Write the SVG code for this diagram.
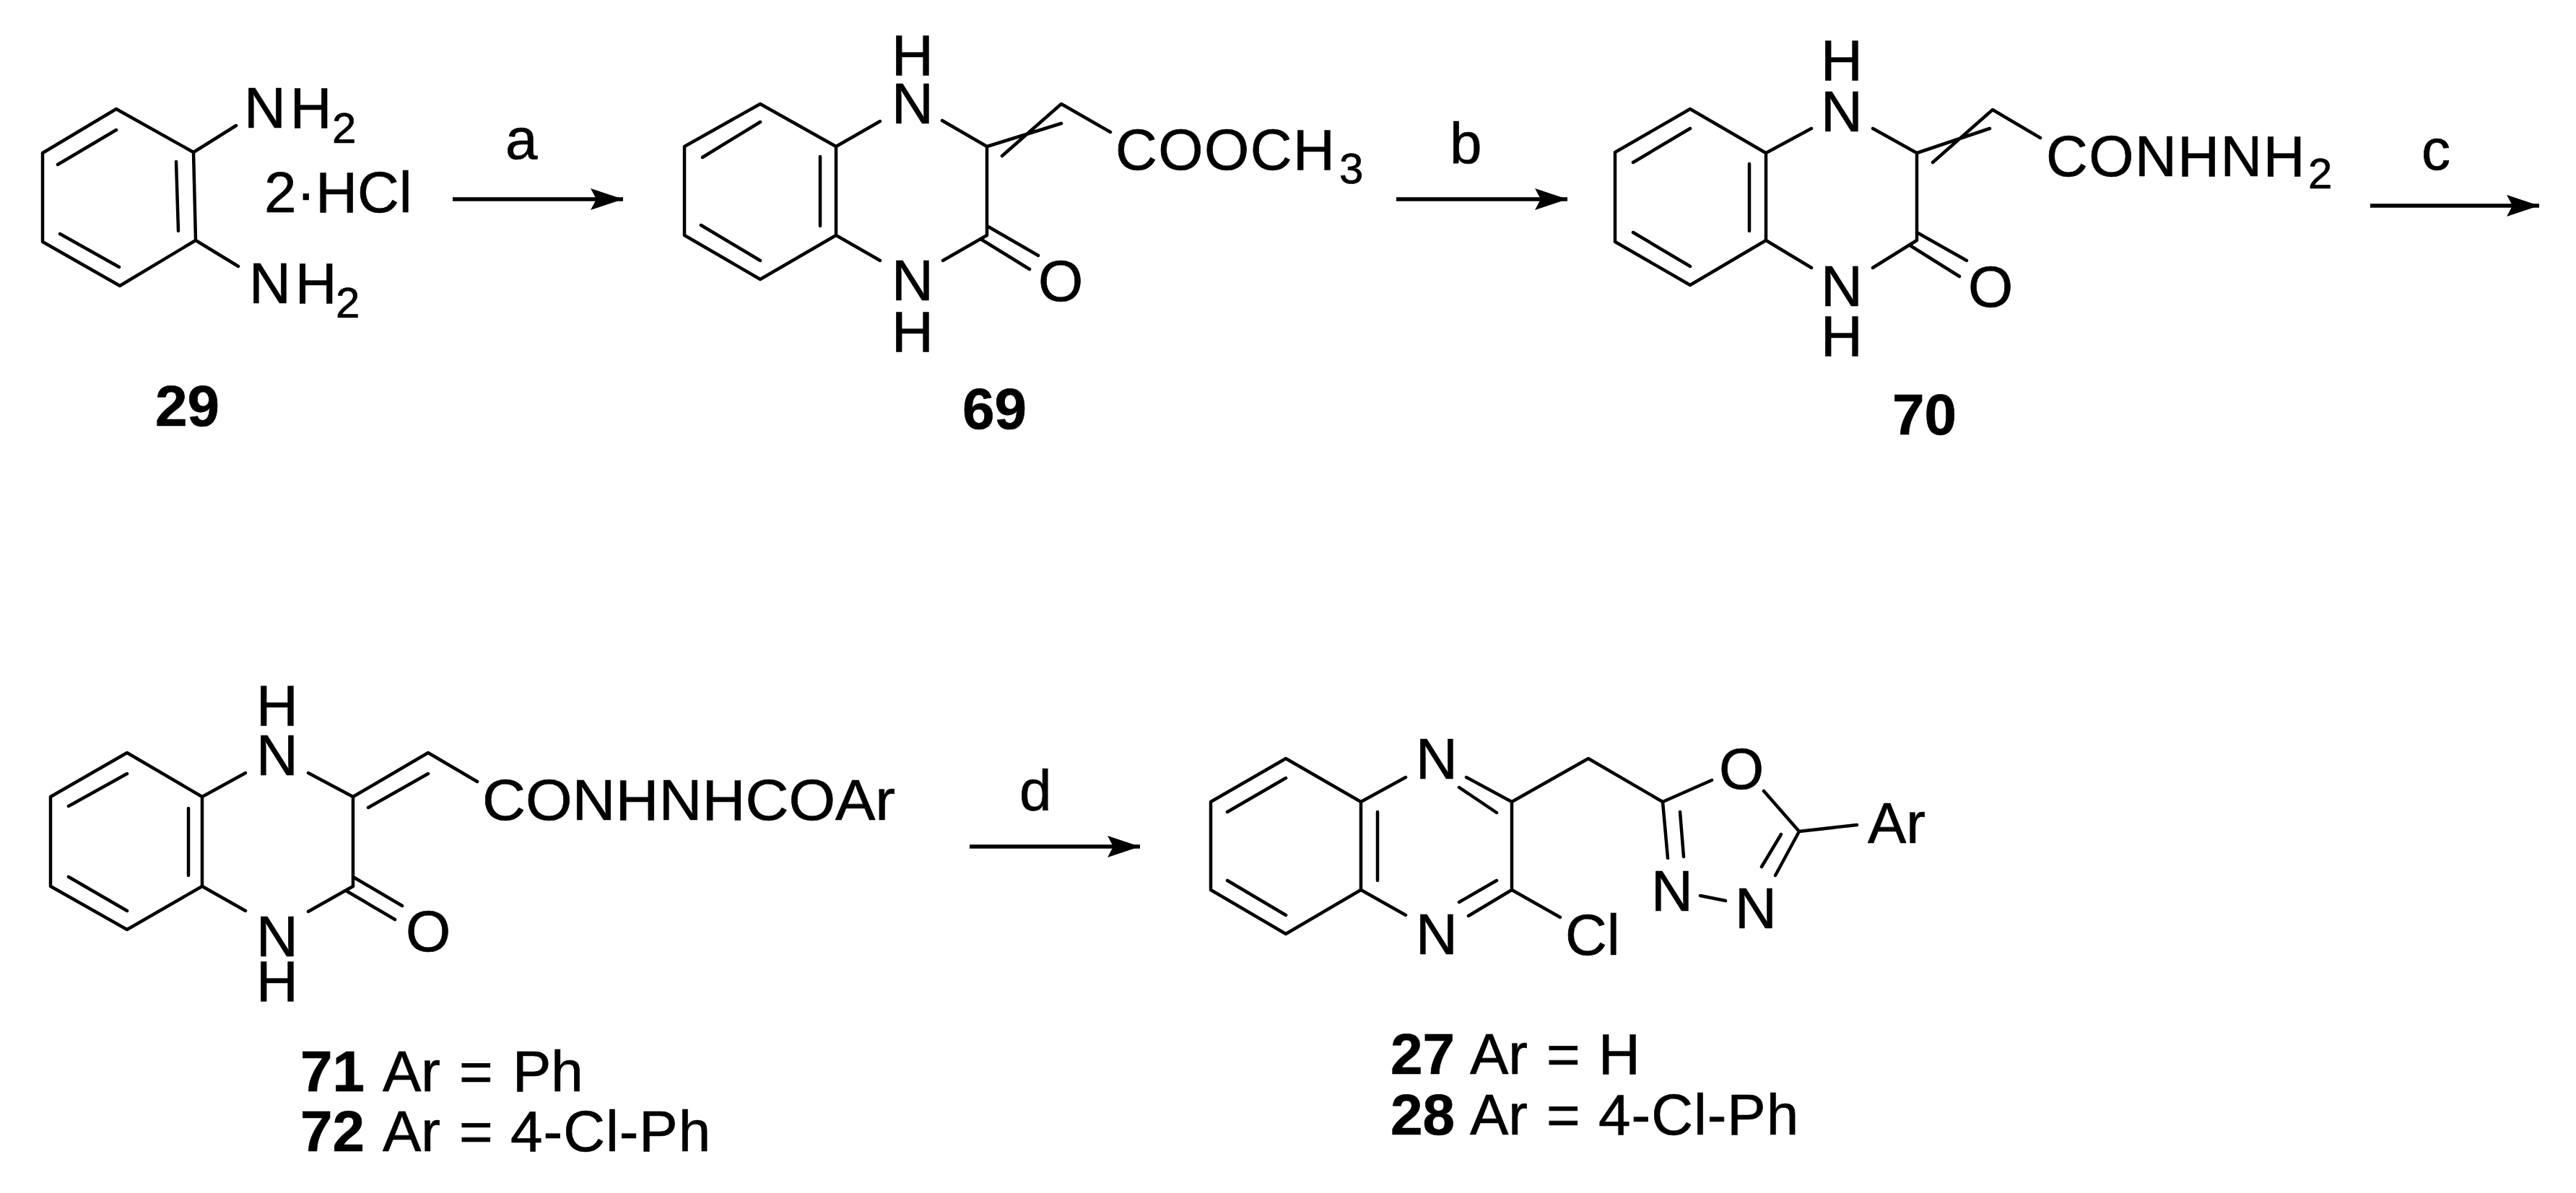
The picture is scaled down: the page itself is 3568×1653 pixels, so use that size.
<svg xmlns="http://www.w3.org/2000/svg" width="3568" height="1653" viewBox="0 0 3568 1653">
<style>
text{font-family:"Liberation Sans",Arial,sans-serif;font-size:80px;fill:#000;stroke:#000;stroke-width:.7px}
.b{font-weight:bold}
.s{font-size:60px}
.nh{letter-spacing:6px}
.ls{letter-spacing:1.5px}
.bond{fill:none;stroke:#000;stroke-width:4.5;stroke-linecap:round;stroke-linejoin:round}
.arrow{fill:none;stroke:#000;stroke-width:5.5}
</style>
<defs>
<marker id="head" markerUnits="userSpaceOnUse" markerWidth="48" markerHeight="34" refX="45" refY="15" orient="auto" viewBox="0 0 48 34">
<path d="M0 0L45 15L0 30L8 15Z" fill="#000"/>
</marker>
</defs>
<rect width="3568" height="1653" fill="#fff"/>

<g id="connectors">
<line class="arrow" x1="627" y1="276" x2="863" y2="276" marker-end="url(#head)"/>
<line class="arrow" x1="1934" y1="276" x2="2171" y2="276" marker-end="url(#head)"/>
<line class="arrow" x1="3283" y1="285" x2="3517" y2="285" marker-end="url(#head)"/>
<line class="arrow" x1="1343" y1="1173" x2="1579" y2="1173" marker-end="url(#head)"/>
<text x="700" y="220">a</text>
<text x="2008" y="226">b</text>
<text x="3354" y="235">c</text>
<text x="1412" y="1123">d</text>
</g>

<g id="mol-29">
<path class="bond" d="M161 151L59 212V335L166 396L271 333L268 211ZM80 228L161 180M244 224L247 320M83 324L165 370M268 211L327 174M271 333L330 369"/>
<text class="nh" x="338" y="177">NH</text><text class="s" x="460" y="198">2</text>
<text class="nh" x="345" y="420">NH</text><text class="s" x="465" y="440">2</text>
<text x="366" y="294">2·HCl</text>
<text class="b" x="215" y="590">29</text>
</g>

<g id="mol-69">
<path class="bond" d="M1053 144L948 203V326L1053 387L1158 326V203ZM973 218L1053 169M1136 217V313M971 312L1053 361M1158 203L1219 168M1305 167L1367 203V326L1306 361M1158 326L1219 361M1367 313L1438 354M1358 331L1426 373M1367 203L1470 171M1388 216L1470 144L1538 183"/>
<text x="1235" y="104">H</text>
<text x="1235" y="171">N</text>
<text x="1235" y="416">N</text>
<text x="1235" y="487">H</text>
<text x="1438" y="417">O</text>
<text class="ls" x="1545" y="235">COOCH</text><text class="s" x="1855" y="254">3</text>
<text class="b" x="1333" y="594">69</text>
</g>

<g id="mol-70">
<path class="bond" d="M2341 151L2237 211V335L2341 395L2446 333V212ZM2262 225L2341 178M2423 227V320M2262 322L2341 369M2446 212L2509 178M2594 178L2655 212V333L2594 371M2446 333L2509 371M2655 322L2724 361M2647 341L2714 383M2655 212L2756 178M2677 225L2760 152L2826 191"/>
<text x="2522" y="111">H</text>
<text x="2522" y="182">N</text>
<text x="2522" y="424">N</text>
<text x="2522" y="493">H</text>
<text x="2726" y="425">O</text>
<text class="ls" x="2834" y="244">CONHNH</text><text class="s" x="3197" y="261">2</text>
<text class="b" x="2621" y="602">70</text>
</g>

<g id="mol-71-72">
<path class="bond" d="M176 1043L70 1104V1228L176 1288L280 1228V1104ZM95 1117L176 1072M261 1120V1213M95 1215L176 1262M280 1104L340 1071M427 1071L489 1104V1228L427 1263M280 1228L340 1262M489 1215L557 1255M479 1234L547 1274M489 1104L593 1043L661 1083M510 1119L593 1072"/>
<text x="355" y="1005">H</text>
<text x="355" y="1074">N</text>
<text x="355" y="1325">N</text>
<text x="355" y="1387">H</text>
<text x="562" y="1318">O</text>
<text x="668" y="1136" textLength="572" lengthAdjust="spacingAndGlyphs">CONHNHCOAr</text>
<text y="1512"><tspan class="b" x="416">71</tspan><tspan x="530">Ar</tspan><tspan x="636">=</tspan><tspan x="710">Ph</tspan></text>
<text y="1595"><tspan class="b" x="416">72</tspan><tspan x="530">Ar</tspan><tspan x="636">=</tspan><tspan x="707" letter-spacing="1">4-Cl-Ph</tspan></text>
</g>

<g id="mol-27-28">
<path class="bond" d="M1781 1051L1677 1111V1233L1781 1294L1885 1233V1111ZM1700 1125L1781 1078M1908 1125V1220M1700 1220L1781 1268M1885 1111L1947 1077M2031 1077L2094 1111V1233L2034 1269M1885 1233L1947 1268M2021 1091L2073 1126M2021 1250L2073 1220M2094 1233L2161 1271M2094 1111L2200 1051L2303 1111L2371 1081M2443 1096L2492 1152L2459 1213M2467 1156L2440 1201M2303 1111L2310 1189M2327 1125L2332 1187M2355 1241L2390 1248M2492 1152L2572 1143"/>
<text x="1961" y="1079">N</text>
<text x="1961" y="1322">N</text>
<text x="2381" y="1093">O</text>
<text x="2287" y="1262">N</text>
<text x="2403" y="1286">N</text>
<text x="2168" y="1323">Cl</text>
<text x="2587" y="1168">Ar</text>
<text y="1488"><tspan class="b" x="1926">27</tspan><tspan x="2036">Ar</tspan><tspan x="2142">=</tspan><tspan x="2214">H</tspan></text>
<text y="1572"><tspan class="b" x="1926">28</tspan><tspan x="2036">Ar</tspan><tspan x="2142">=</tspan><tspan x="2214" letter-spacing="1">4-Cl-Ph</tspan></text>
</g>
</svg>
